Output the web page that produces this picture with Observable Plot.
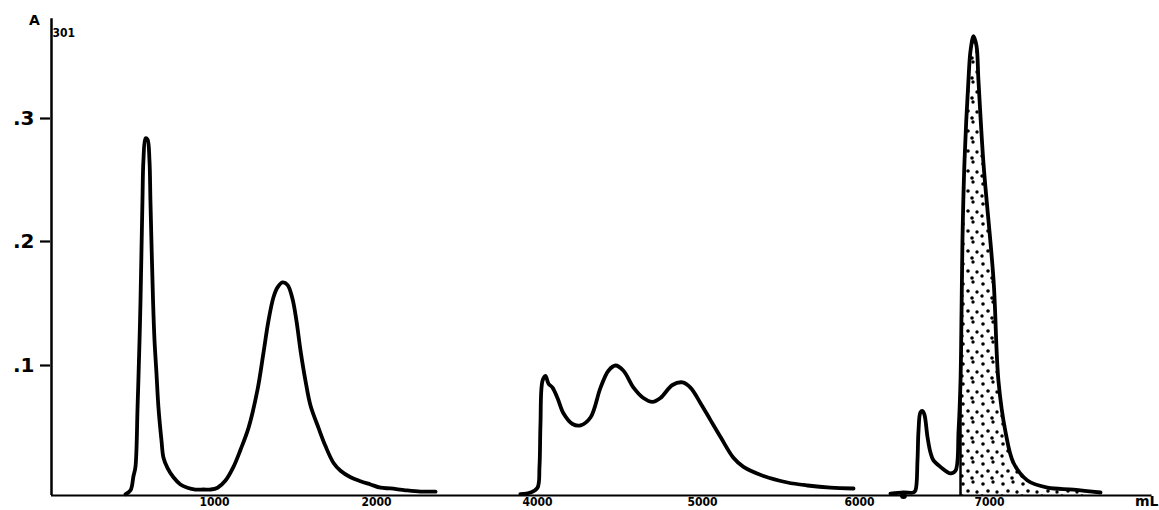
<!DOCTYPE html>
<html>
<head>
<meta charset="utf-8">
<script src="https://cdn.jsdelivr.net/npm/d3@7"></script>
<script src="https://cdn.jsdelivr.net/npm/@observablehq/plot@0.6"></script>
<style>
  html, body { margin: 0; padding: 0; background: #fff; }
  svg { display: block; }
</style>
</head>
<body>
<div id="chart"></div>
<script>
// ---- Data (elution volume in mL, absorbance at 301 nm) ----
const volume1 = [454,485,503,515,528,540,546,558,564,577,589,601,607,623,632,644,656,675,687,712,748,791,834,883,933,975,1019,1068,1117,1160,1210,1265,1302,1333,1364,1389,1420,1451,1481,1506,1531,1562,1593,1642,1685,1735,1778,1840,1901,1963,2025,2086,2179,2272,2364];
const absorb1 = [0.001,0.004,0.015,0.022,0.068,0.120,0.152,0.233,0.266,0.284,0.283,0.266,0.233,0.152,0.120,0.094,0.068,0.042,0.029,0.021,0.014,0.0085,0.006,0.0046,0.0046,0.0046,0.006,0.0115,0.022,0.035,0.052,0.081,0.110,0.136,0.155,0.163,0.167,0.165,0.154,0.136,0.112,0.088,0.069,0.052,0.038,0.025,0.019,0.014,0.011,0.0085,0.006,0.0054,0.004,0.003,0.003];

const volume2 = [3897,3958,4000,4012,4018,4030,4048,4067,4091,4121,4158,4212,4261,4321,4382,4430,4473,4521,4582,4642,4697,4745,4818,4879,4927,4988,5051,5115,5197,5261,5389,5541,5669,5815,5962];
const absorb2 = [0.001,0.0023,0.006,0.022,0.055,0.088,0.092,0.086,0.083,0.075,0.063,0.055,0.054,0.060,0.083,0.096,0.100,0.096,0.083,0.075,0.072,0.075,0.085,0.087,0.083,0.071,0.058,0.045,0.029,0.022,0.015,0.010,0.0077,0.006,0.0054];

const volume3 = [6238,6338,6415,6431,6446,6454,6469,6485,6500,6523,6546,6569,6623,6700,6738,6762,6777,6785,6792,6808,6838,6854,6877,6900,6915,6954,7031,7069,7123,7185,7292,7446,7646,7854];
const absorb3 = [0.0015,0.0023,0.0023,0.004,0.027,0.050,0.064,0.065,0.062,0.045,0.033,0.027,0.022,0.017,0.019,0.050,0.088,0.144,0.201,0.266,0.331,0.355,0.367,0.359,0.331,0.263,0.169,0.088,0.049,0.025,0.0115,0.006,0.0046,0.0023];

const fractionStart = 6777;       // start of the shaded (collected) fraction
const markerVolume = [6338];      // small dot marker on the baseline
const xTicks = [1000, 2000, 4000, 5000, 6000, 7000];
const yTicks = [0.1, 0.2, 0.3];

// ---- Build tables ----
const curve = [
  ...volume1.map((v, i) => ({v, a: absorb1[i], seg: 1})),
  ...volume2.map((v, i) => ({v, a: absorb2[i], seg: 2})),
  ...volume3.map((v, i) => ({v, a: absorb3[i], seg: 3}))
];
const shaded = curve.filter(d => d.seg === 3 && d.v >= fractionStart);
const startAbs = absorb3[volume3.indexOf(fractionStart)];

const bold = "DejaVu Sans";
const cond = "DejaVu Sans Condensed";

const chart = Plot.plot({
  width: 1159,
  height: 510,
  marginLeft: 50,
  marginRight: 0,
  marginTop: 0,
  marginBottom: 15,
  style: {background: "white", color: "black"},
  x: {
    type: "linear",
    axis: null,
    // broken axis: 2450–3880 mL omitted, last section drawn at a tighter scale
    domain: [0, 1000, 2000, 2450, 3880, 4000, 5000, 6000, 7000, 8000, 8300],
    range:  [51, 214, 376, 449, 517, 537, 702, 859, 989, 1119, 1158]
  },
  y: {
    type: "linear",
    axis: null,
    domain: [0, 0.1, 0.2, 0.3, 0.4],
    range: [495, 365, 241, 118, -5]
  },
  marks: [
    Plot.areaY(shaded, {x: "v", y: "a", fill: "url(#dots)", curve: "catmull-rom"}),
    Plot.ruleX([fractionStart], {y1: 0, y2: startAbs, stroke: "black", strokeWidth: 2.5}),
    Plot.ruleY([0], {x1: 0, x2: 8250, stroke: "black", strokeWidth: 2}),
    Plot.ruleX([0], {y1: 0, y2: 0.381, stroke: "black", strokeWidth: 2.5}),
    Plot.line(curve, {x: "v", y: "a", z: "seg", stroke: "black", strokeWidth: 3.8,
      curve: "catmull-rom", strokeLinejoin: "round", strokeLinecap: "round"}),
    Plot.dot(markerVolume, {x: d => d, y: 0, r: 3.5, fill: "black"}),
    Plot.axisY(yTicks, {
      tickSize: 10, tickPadding: 6, strokeWidth: 2.2,
      tickFormat: d => "." + Math.round(d * 10),
      fontSize: 20, fontWeight: "bold", fontFamily: bold, label: null
    }),
    Plot.text(xTicks, {x: d => d, y: 0, text: d => String(d), dy: 2, lineAnchor: "top",
      fontSize: 12, fontWeight: "bold", fontFamily: cond}),
    Plot.text(["mL"], {frameAnchor: "bottom-right", dx: -1, dy: 1, lineAnchor: "top",
      textAnchor: "end", fontSize: 14, fontWeight: "bold", fontFamily: bold}),
    Plot.text(["A"], {frameAnchor: "top-left", dx: -16, dy: 15, lineAnchor: "top",
      textAnchor: "middle", fontSize: 14, fontWeight: "bold", fontFamily: bold}),
    Plot.text(["301"], {frameAnchor: "top-left", dx: 2, dy: 28, lineAnchor: "top",
      textAnchor: "start", fontSize: 12, fontWeight: "bold", fontFamily: cond})
  ]
});

// dotted fill pattern for the shaded fraction
const defs = document.createElementNS("http://www.w3.org/2000/svg", "defs");
defs.innerHTML = `<pattern id="dots" patternUnits="userSpaceOnUse" width="20" height="20">
  <circle cx="3" cy="4" r="1.8" fill="black"/>
  <circle cx="13" cy="2" r="1.7" fill="black"/>
  <circle cx="8" cy="11" r="1.8" fill="black"/>
  <circle cx="17" cy="12" r="1.7" fill="black"/>
  <circle cx="2" cy="16" r="1.7" fill="black"/>
  <circle cx="12" cy="18" r="1.8" fill="black"/>
</pattern>`;
chart.prepend(defs);

document.getElementById("chart").append(chart);
</script>
</body>
</html>
